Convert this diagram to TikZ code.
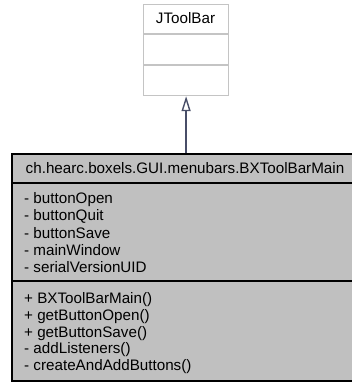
\documentclass[tikz,border=0pt]{standalone}
\usepackage{fontspec}
\setmainfont{Liberation Sans}
\usetikzlibrary{arrows.meta}
\definecolor{classfill}{RGB}{192,192,192}
\definecolor{paleedge}{RGB}{196,196,196}
\definecolor{inheritline}{RGB}{72,78,104}
\tikzset{
  umltext/.style={inner sep=0pt, font=\fontsize{15.2}{17}\selectfont},
  member/.style={umltext, anchor=base west},
}
\begin{document}
\begin{tikzpicture}[x=1pt,y=-1pt]
\useasboundingbox (0,0) rectangle (351,382);

% superclass JToolBar
\node[draw=paleedge, line width=1.2pt, fill=white, minimum width=85pt,
      minimum height=91pt, inner sep=0pt, anchor=north west] (super) at (143,4) {};
\draw[paleedge, line width=1.2pt] (143,34) -- (228,34) (143,65) -- (228,65);
\node[umltext, anchor=base] (supername) at (185.5,23.5) {JToolBar};

% class BXToolBarMain
\node[draw=black, line width=1.5pt, fill=classfill, minimum width=348pt,
      minimum height=227pt, inner sep=0pt, anchor=north west] (main) at (11,153) {};
\draw[black, line width=1.5pt] (11,183) -- (359,183) (11,281) -- (359,281);
\node[umltext, anchor=base] (mainname) at (185,173.5) {ch.hearc.boxels.GUI.menubars.BXToolBarMain};

% attributes
\foreach \t [count=\i] in {buttonOpen,buttonQuit,buttonSave,mainWindow,serialVersionUID}
  \node[member] (attr\i) at (24,{203.5+17.25*(\i-1)}) {- \t};

% operations
\foreach \t [count=\i] in {+ BXToolBarMain(),+ getButtonOpen(),+ getButtonSave(),- addListeners(),- createAndAddButtons()}
  \node[member] (op\i) at (24,{303.5+16.75*(\i-1)}) {\t};

% generalization arrow
\draw[inheritline, line width=1.8pt,
      -{Triangle[open, length=15pt, width=9pt, line width=1.4pt]}]
  (main.north -| super.south) -- (super.south);
\end{tikzpicture}
\end{document}
